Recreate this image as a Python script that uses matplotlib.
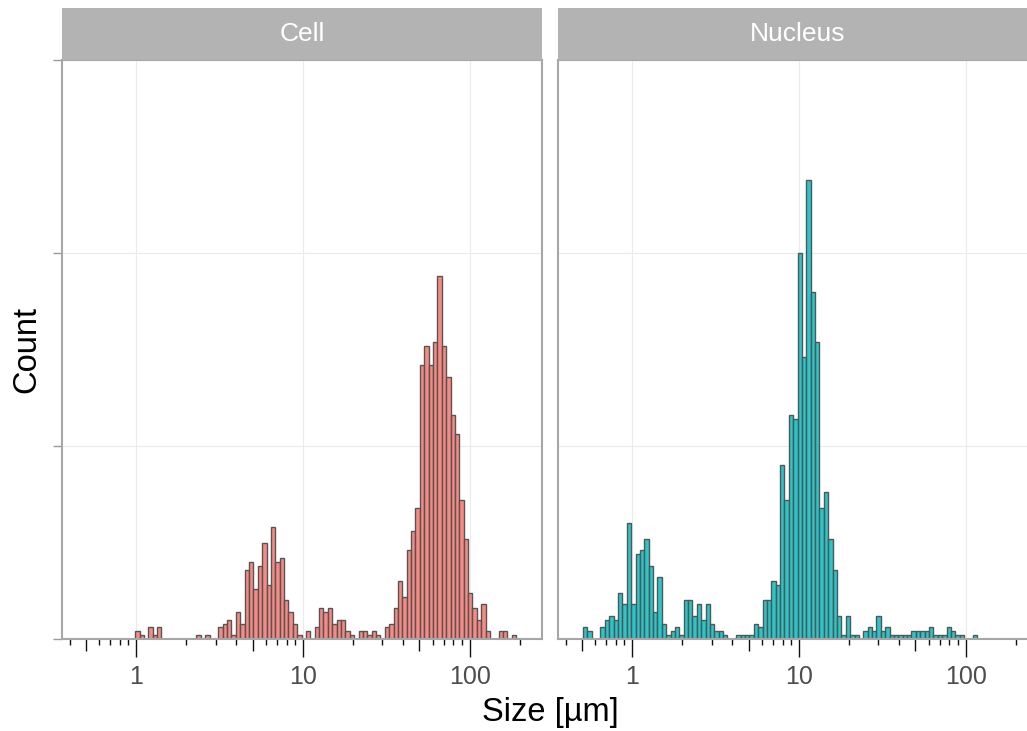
import numpy as np
import matplotlib
matplotlib.use('Agg')
import matplotlib.pyplot as plt
from matplotlib.colors import to_rgba
from matplotlib.ticker import LogLocator, NullFormatter, NullLocator

plt.rcParams['font.family'] = ['Liberation Sans', 'DejaVu Sans']

panels = ['Cell', 'Nucleus']
fills = ['#F8766D', '#00BFC4']

# histogram bins on log10(size), shared by both facets
bin_start = -0.294
bin_width = 0.02626
n_bins = 98

cell_counts = [0, 0, 0, 0, 0, 0, 0, 0, 0, 0,
               0, 2, 1, 0, 3, 1, 3, 0, 0, 0,
               0, 0, 0, 0, 0, 1, 0, 1, 0, 0,
               3, 4, 5, 1, 7, 4, 18, 20, 13, 19,
               25, 14, 29, 20, 21, 10, 7, 4, 1, 0,
               2, 0, 3, 8, 7, 8, 4, 5, 5, 2,
               1, 0, 2, 2, 1, 2, 1, 0, 3, 4,
               8, 15, 11, 23, 28, 34, 71, 76, 71, 77,
               94, 76, 68, 58, 53, 36, 26, 12, 8, 5,
               9, 2, 0, 0, 2, 2, 0, 1]

nucleus_counts = [3, 2, 0, 0, 3, 5, 6, 5, 12, 9,
                  30, 9, 22, 23, 26, 19, 7, 16, 4, 1,
                  2, 3, 1, 10, 10, 6, 9, 5, 9, 4,
                  2, 2, 1, 0, 0, 1, 1, 1, 1, 4,
                  3, 10, 10, 15, 14, 45, 36, 58, 57, 100,
                  73, 119, 90, 77, 34, 38, 26, 18, 6, 1,
                  6, 1, 1, 0, 2, 3, 2, 6, 2, 3,
                  1, 1, 1, 1, 1, 2, 2, 2, 2, 3,
                  1, 1, 1, 3, 2, 1, 1, 0, 0, 1,
                  0, 0, 0, 0, 0, 0, 0, 0]

x_lim = (10 ** -0.4436, 10 ** 2.4323)
x_breaks = [1, 10, 100]
x_labels = ['1', '10', '100']
x_mid_breaks = [0.5, 5, 50, 500]
y_breaks = [0, 50, 100, 150]

W, H = 1027, 731
fig = plt.figure(figsize=(W / 100, H / 100), dpi=100)

edges = 10 ** (bin_start + bin_width * np.arange(n_bins + 1))
lefts = edges[:-1]
widths = np.diff(edges)

panel_lefts = [62, 558]
pw, top, bottom = 479.7, 60, 639

for i, (name, counts, fill) in enumerate(zip(panels, [cell_counts, nucleus_counts], fills)):
    x0 = panel_lefts[i]
    ax = fig.add_axes([x0 / W, (H - bottom) / H, pw / W, (bottom - top) / H])
    counts = np.array(counts)
    keep = counts > 0
    ax.bar(lefts[keep], counts[keep], width=widths[keep], align='edge',
           facecolor=to_rgba(fill, 0.85), edgecolor='#555555', linewidth=1.0, zorder=2)
    ax.set_xscale('log')
    ax.set_xlim(*x_lim)
    ax.set_ylim(0, 150)

    ax.set_xticks(x_breaks)
    ax.set_xticklabels(x_labels)
    ax.xaxis.set_minor_locator(LogLocator(base=10, subs=[2, 3, 4, 6, 7, 8, 9]))
    ax.xaxis.set_minor_formatter(NullFormatter())
    ax.tick_params(axis='x', which='major', length=13, width=1.0, color='#111111',
                   labelsize=18, labelcolor='#4d4d4d', pad=6)
    ax.tick_params(axis='x', which='minor', length=4.3, width=1.0, color='#111111')

    sec = ax.secondary_xaxis('bottom')
    sec.set_xticks(x_mid_breaks)
    sec.xaxis.set_minor_locator(NullLocator())
    sec.tick_params(axis='x', which='major', length=8.6, width=1.0, color='#111111',
                    labelbottom=False)
    sec.spines['bottom'].set_visible(False)

    ax.set_yticks(y_breaks)
    ax.set_yticklabels([])
    if i == 0:
        ax.tick_params(axis='y', length=6.5, width=1.0, color='#999999')
    else:
        ax.tick_params(axis='y', left=False)

    ax.grid(True, which='major', color='#ebebeb', linewidth=0.8)
    ax.set_axisbelow(True)
    for sp in ax.spines.values():
        sp.set_color('#a6a6a6')
        sp.set_linewidth(1.5)

    strip = fig.add_axes([x0 / W, (H - top) / H, pw / W, 52 / H])
    strip.set_facecolor('#b3b3b3')
    strip.set_xticks([])
    strip.set_yticks([])
    for sp in strip.spines.values():
        sp.set_visible(False)
    strip.text(0.5, 0.5, name, color='white', fontsize=19,
               ha='center', va='center', transform=strip.transAxes)

fig.text(549.9 / W, 1 - 713 / H, 'Size [µm]', fontsize=23.5, ha='center', va='center')
fig.text(27 / W, 1 - 349.5 / H, 'Count', fontsize=23.5, rotation=90,
         ha='center', va='center')

fig.savefig('out.png', dpi=100)
